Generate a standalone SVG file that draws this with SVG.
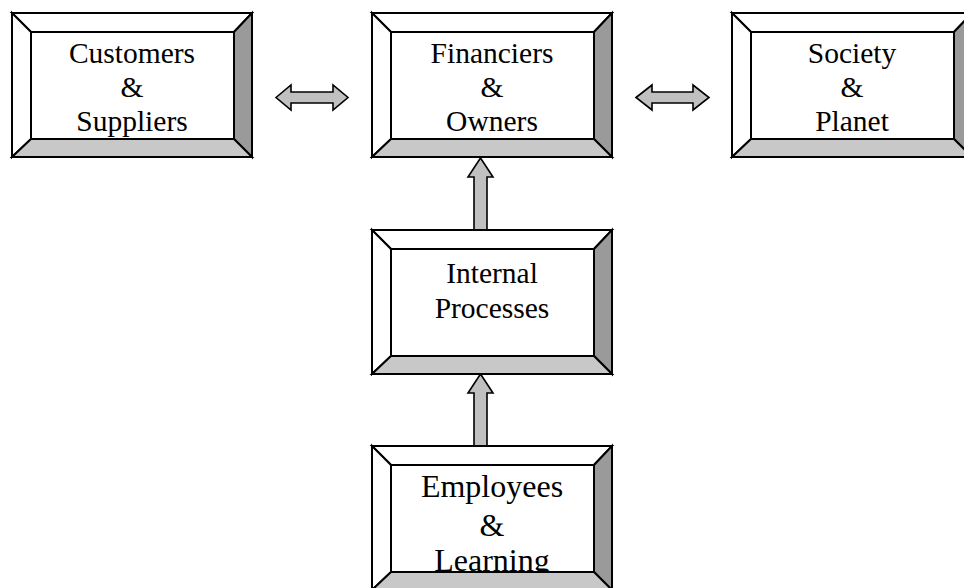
<svg xmlns="http://www.w3.org/2000/svg" xmlns:xlink="http://www.w3.org/1999/xlink" width="964" height="588" viewBox="0 0 964 588">
  <style>
    .face { stroke: #000; stroke-width: 2; stroke-linejoin: miter; }
    .light { fill: #fff; }
    .shade-r { fill: #9a9a9a; }
    .shade-b { fill: #c8c8c8; }
    .label { font-family: "Liberation Serif", "Times New Roman", serif; font-size: 29.5px; fill: #000; text-anchor: middle; }
    .label-lg { font-size: 32px; }
    .arrow { fill: #c0c0c0; stroke: #000; stroke-width: 1.6; stroke-linejoin: miter; }
  </style>
  <defs>
    <!-- bevelled frame, 240 x 144 -->
    <symbol id="bevel" overflow="visible">
      <polygon class="face light" points="0,0 240,0 222,19 19,19"/>
      <polygon class="face light" points="0,0 19,19 19,126 0,144"/>
      <polygon class="face shade-r" points="240,0 240,144 222,126 222,19"/>
      <polygon class="face shade-b" points="0,144 240,144 222,126 19,126"/>
      <rect class="face light" x="19" y="19" width="203" height="107"/>
    </symbol>
    <clipPath id="clip-employees">
      <rect x="391" y="465" width="203" height="107"/>
    </clipPath>
  </defs>

  <rect width="964" height="588" fill="#fff"/>

  <g id="connectors">
    <!-- Customers <-> Financiers -->
    <polygon class="arrow" points="276,97.5 291,85 291,92 333,92 333,85 348,97.5 333,110 333,103 291,103 291,110"/>
    <!-- Financiers <-> Society -->
    <polygon class="arrow" points="636,97.5 652,85 652,92 693,92 693,85 709,97.5 693,110 693,103 652,103 652,110"/>
    <!-- Internal Processes -> Financiers -->
    <polygon class="arrow" points="480.5,158 493,177 487,177 487,230 474,230 474,177 468,177"/>
    <!-- Employees -> Internal Processes -->
    <polygon class="arrow" points="480.5,374 493,393 487,393 487,446 474,446 474,393 468,393"/>
  </g>

  <g id="customers">
    <use xlink:href="#bevel" x="12" y="13"/>
    <text class="label" x="132" y="63">Customers</text>
    <text class="label" x="132" y="97">&amp;</text>
    <text class="label" x="132" y="131">Suppliers</text>
  </g>

  <g id="financiers">
    <use xlink:href="#bevel" x="372" y="13"/>
    <text class="label" x="492" y="63">Financiers</text>
    <text class="label" x="492" y="97">&amp;</text>
    <text class="label" x="492" y="131">Owners</text>
  </g>

  <g id="society">
    <use xlink:href="#bevel" x="732" y="13"/>
    <text class="label" x="852" y="63">Society</text>
    <text class="label" x="852" y="97">&amp;</text>
    <text class="label" x="852" y="131">Planet</text>
  </g>

  <g id="internal-processes">
    <use xlink:href="#bevel" x="372" y="230"/>
    <text class="label" x="492" y="283">Internal</text>
    <text class="label" x="492" y="318">Processes</text>
  </g>

  <g id="employees">
    <use xlink:href="#bevel" x="372" y="446"/>
    <g clip-path="url(#clip-employees)">
      <text class="label label-lg" x="492" y="497">Employees</text>
      <text class="label label-lg" x="492" y="536">&amp;</text>
      <text class="label label-lg" x="492" y="571">Learning</text>
    </g>
  </g>
</svg>
